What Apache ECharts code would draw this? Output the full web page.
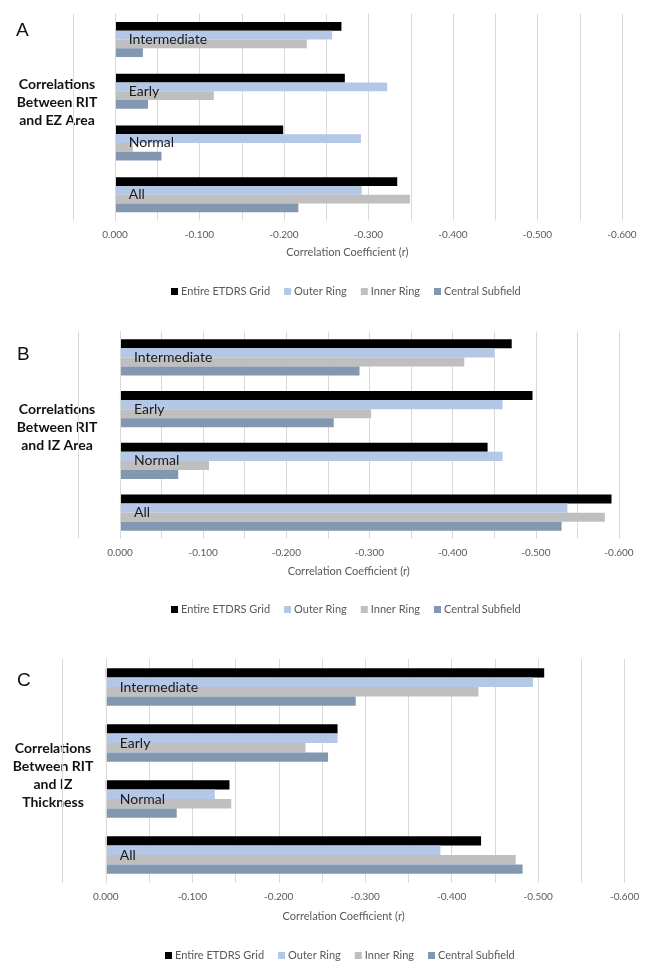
<!DOCTYPE html>
<html>
<head>
<meta charset="utf-8">
<script src="https://cdn.jsdelivr.net/npm/echarts@6/dist/echarts.min.js"></script>
<style>
html,body{margin:0;padding:0;background:#fff;}
#chart{width:650px;height:970px;}
</style>
</head>
<body>
<div id="chart"></div>
<script>
// ---- data ----
const categories = ['Intermediate', 'Early', 'Normal', 'All'];
const seriesNames = ['Entire ETDRS Grid', 'Outer Ring', 'Inner Ring', 'Central Subfield'];
const seriesColors = ['#000000', '#B4C7E7', '#BFBFBF', '#8497B0'];
const panelLetters = ['A', 'B', 'C'];
const panelTitles = ['Correlations\nBetween RIT\nand EZ Area', 'Correlations\nBetween RIT\nand IZ Area', 'Correlations\nBetween RIT\nand IZ\nThickness'];
const axisTitle = 'Correlation Coefficient (r)';

// Panel A: RIT vs EZ Area
const ezAreaEntire  = [-0.268, -0.272, -0.199, -0.334];
const ezAreaOuter   = [-0.257, -0.322, -0.291, -0.292];
const ezAreaInner   = [-0.227, -0.117, -0.021, -0.349];
const ezAreaCentral = [-0.033, -0.039, -0.055, -0.217];
// Panel B: RIT vs IZ Area
const izAreaEntire  = [-0.471, -0.496, -0.442, -0.591];
const izAreaOuter   = [-0.450, -0.460, -0.460, -0.538];
const izAreaInner   = [-0.414, -0.302, -0.107, -0.583];
const izAreaCentral = [-0.288, -0.257, -0.070, -0.531];
// Panel C: RIT vs IZ Thickness
const izThickEntire  = [-0.507, -0.268, -0.143, -0.434];
const izThickOuter   = [-0.494, -0.268, -0.126, -0.387];
const izThickInner   = [-0.431, -0.231, -0.145, -0.474];
const izThickCentral = [-0.289, -0.257, -0.082, -0.482];

const panelData = [
  [ezAreaEntire, ezAreaOuter, ezAreaInner, ezAreaCentral],
  [izAreaEntire, izAreaOuter, izAreaInner, izAreaCentral],
  [izThickEntire, izThickOuter, izThickInner, izThickCentral]
];

// ---- layout ----
const layouts = [
  {left: 72.75, right: 28, top: 13.6, height: 207, gap: '32%', nameGap: 26, legendTop: 281, legendLeft: 166, letter: [23, 32], title: [57, 102], labelMargin: 56},
  {left: 78.4, right: 31, top: 331.5, height: 207, gap: '30%', nameGap: 27, legendTop: 599, legendLeft: 166, letter: [24, 356], title: [57, 427], labelMargin: 55.6},
  {left: 62.6, right: 25.4, top: 659, height: 224, gap: '33%', nameGap: 28, legendTop: 945, legendLeft: 160, letter: [24, 682], title: [53, 775], labelMargin: 57.2}
];

const FONT = 'Lato, "Open Sans", sans-serif';
const grid = [], xAxis = [], yAxis = [], series = [], legend = [], graphic = [];

function tickFmt(v) {
  const r = Math.round(v * 100);
  if (r % 10 !== 0 || r > 0) return '';
  return (r / 100).toFixed(3);
}

layouts.forEach((L, p) => {
  grid.push({left: L.left, right: L.right, top: L.top, height: L.height, containLabel: false});
  xAxis.push({
    type: 'value', gridIndex: p, inverse: true, min: -0.6, max: 0.05, interval: 0.05,
    name: axisTitle, nameLocation: 'middle', nameGap: L.nameGap,
    nameTextStyle: {color: '#595959', fontSize: 11, fontFamily: FONT},
    axisLine: {show: false}, axisTick: {show: false},
    axisLabel: {formatter: tickFmt, color: '#595959', fontSize: 10, fontFamily: FONT, margin: 9},
    splitLine: {show: true, lineStyle: {color: '#D9D9D9', width: 1}}
  });
  yAxis.push({
    type: 'category', gridIndex: p, data: categories, inverse: true, z: 10,
    axisLine: {show: true, onZero: true, lineStyle: {color: '#D9D9D9'}},
    axisTick: {show: false},
    axisLabel: {inside: true, margin: L.labelMargin, color: '#1a1a1a', fontSize: 14, fontFamily: FONT}
  });
  seriesNames.forEach((name, s) => {
    series.push({
      type: 'bar', name: name, xAxisIndex: p, yAxisIndex: p,
      data: panelData[p][s], barGap: '0%', barCategoryGap: L.gap,
      itemStyle: {color: seriesColors[s]}, emphasis: {disabled: true}
    });
  });
  legend.push({
    data: seriesNames, top: L.legendTop, left: L.legendLeft, itemWidth: 7, itemHeight: 7, itemGap: 14,
    icon: 'rect', textStyle: {color: '#595959', fontSize: 11, fontFamily: FONT, padding: [0, 0, 0, -2]}
  });
  graphic.push({
    type: 'text', left: L.letter[0] - 7, top: L.letter[1] - 11,
    style: {text: panelLetters[p], font: '19px "Liberation Sans", Arial, sans-serif', fill: '#111'}
  });
  graphic.push({
    type: 'text', x: L.title[0], y: L.title[1],
    style: {text: panelTitles[p], font: 'bold 14px ' + FONT, fill: '#111', textAlign: 'center', textVerticalAlign: 'middle', lineHeight: 18}
  });
});

const chart = echarts.init(document.getElementById('chart'), null, {renderer: 'canvas'});
chart.setOption({
  animation: false,
  backgroundColor: '#ffffff',
  grid, xAxis, yAxis, series, legend, graphic
});
</script>
</body>
</html>
